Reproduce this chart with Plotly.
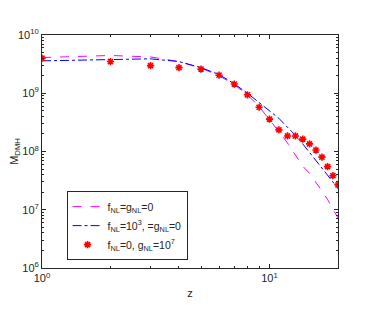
import plotly.graph_objects as go
import math

z = list(range(1, 21))

m_fnl0_gnl0 = [4.1e9, 4.45e9, 4.2e9, 3.5e9, 2.7e9, 2.0e9, 1.4e9, 9.4e8, 5.9e8, 3.6e8,
               2.2e8, 1.4e8, 8.5e7, 5.6e7, 4.2e7, 3.0e7, 2.1e7, 1.5e7, 1.03e7, 7.2e6]
m_fnl1e3 = [3.6e9, 3.8e9, 3.9e9, 3.5e9, 2.75e9, 2.1e9, 1.45e9, 1.0e9, 7.0e8, 5.0e8,
            3.7e8, 2.6e8, 1.9e8, 1.35e8, 9.7e7, 7.0e7, 5.2e7, 3.9e7, 3.0e7, 2.3e7]
m_gnl1e7 = [4.0e9, 3.5e9, 2.98e9, 2.75e9, 2.6e9, 2.04e9, 1.44e9, 9.4e8, 5.75e8, 3.6e8,
            2.35e8, 1.85e8, 1.85e8, 1.63e8, 1.35e8, 1.06e8, 8.0e7, 5.5e7, 3.86e7, 2.67e7]

names = ["f<sub>NL</sub>=g<sub>NL</sub>=0",
         "f<sub>NL</sub>=10<sup>3</sup>, =g<sub>NL</sub>=0",
         "f<sub>NL</sub>=0, g<sub>NL</sub>=10<sup>7</sup>"]

x_major = [1, 10]
x_major_text = ["10<sup>0</sup>", "10<sup>1</sup>"]
y_major = [1e6, 1e7, 1e8, 1e9, 1e10]
y_major_text = ["10<sup>6</sup>", "10<sup>7</sup>", "10<sup>8</sup>", "10<sup>9</sup>", "10<sup>10</sup>"]
x_minor = [2, 3, 4, 5, 6, 7, 8, 9, 20]
y_minor = [m * 10 ** e for e in range(6, 10) for m in range(2, 10)]

fig = go.Figure()
fig.add_trace(go.Scatter(x=z, y=m_fnl0_gnl0, mode="lines", name=names[0],
                         line=dict(color="#FF00FF", dash="dash", width=1)))
fig.add_trace(go.Scatter(x=z, y=m_fnl1e3, mode="lines", name=names[1],
                         line=dict(color="#0000FF", dash="dashdot", width=1)))
fig.add_trace(go.Scatter(x=z, y=m_gnl1e7, mode="markers", name=names[2],
                         marker=dict(symbol="asterisk-open", size=6, color="#FF0000",
                                     line=dict(color="#FF0000", width=1.6))))

tfont = dict(family="Liberation Sans, Arial", size=11, color="#262626")
axis_common = dict(type="log", showgrid=False, zeroline=False, showline=True,
                   linecolor="#262626", linewidth=1, mirror="allticks",
                   ticks="inside", ticklen=4, tickcolor="#262626",
                   tickfont=tfont, automargin=False)

fig.update_xaxes(**axis_common, range=[0, math.log10(20)],
                 tickmode="array", tickvals=x_major, ticktext=x_major_text,
                 minor=dict(ticks="inside", ticklen=2, tickcolor="#262626",
                            tickmode="array", tickvals=x_minor, showgrid=False),
                 title=dict(text="z", standoff=6, font=tfont))
fig.update_yaxes(**axis_common, range=[6, 10],
                 tickmode="array", tickvals=y_major, ticktext=y_major_text,
                 minor=dict(ticks="inside", ticklen=2, tickcolor="#262626",
                            tickmode="array", tickvals=y_minor, showgrid=False),
                 title=dict(text="M<sub>DMH</sub>", standoff=18, font=tfont))

fig.update_layout(
    width=365, height=308,
    margin=dict(l=34, r=35, t=27, b=48),
    paper_bgcolor="white", plot_bgcolor="white",
    font=tfont,
    showlegend=True,
    legend=dict(x=0.083, y=0.33, xanchor="left", yanchor="top",
                bgcolor="white", bordercolor="#262626", borderwidth=1,
                font=dict(size=10.5, color="#262626"),
                tracegroupgap=0, itemwidth=30),
)

fig.write_html("out.html")
